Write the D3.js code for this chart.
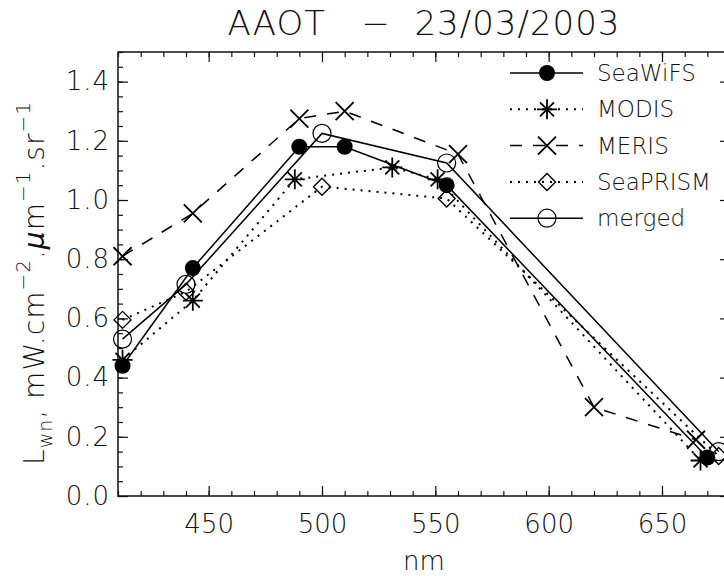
<html lang="en">
<head>
<meta charset="UTF-8">
<title>AAOT - 23/03/2003</title>
<script src="https://d3js.org/d3.v7.min.js"></script>
<style>
    body { margin: 0; background: #fff; }
    text { font-family: "DejaVu Sans", sans-serif; font-weight: 200; fill: #111; white-space: pre; }
</style>
</head>
<body>
<svg width="724" height="576"></svg>
<script>
// data
var titleText = "AAOT   \u2212  23/03/2003";
var seriesNames = ["SeaWiFS", "MODIS", "MERIS", "SeaPRISM", "merged"];

var seawifsNm = [412, 443, 490, 510, 555, 670];
var seawifsLwn = [0.44, 0.77, 1.18, 1.18, 1.05, 0.13];

var modisNm = [412, 443, 488, 531, 551, 667];
var modisLwn = [0.46, 0.66, 1.07, 1.11, 1.07, 0.12];

var merisNm = [412, 443, 490, 510, 560, 620, 665];
var merisLwn = [0.81, 0.955, 1.275, 1.30, 1.155, 0.30, 0.19];

var seaprismNm = [412, 440, 500, 555, 675];
var seaprismLwn = [0.595, 0.69, 1.045, 1.005, 0.135];

var mergedNm = [412, 440, 500, 555, 675];
var mergedLwn = [0.53, 0.715, 1.225, 1.125, 0.15];

var xMajor = [450, 500, 550, 600, 650];
var yMajor = [0.0, 0.2, 0.4, 0.6, 0.8, 1.0, 1.2, 1.4];

var svg = d3.select("svg");
var pLeft = 118, pRight = 730, pTop = 52, pBottom = 496;

var x = d3.scaleLinear().domain([410, 680]).range([pLeft, pRight]);
var y = d3.scaleLinear().domain([0, 1.5]).range([pBottom, pTop]);

var styles = {
    SeaWiFS: {dash: null, sym: "filled"},
    MODIS: {dash: "2,6", sym: "asterisk"},
    MERIS: {dash: "12,11", sym: "cross"},
    SeaPRISM: {dash: "2,6", sym: "diamond"},
    merged: {dash: null, sym: "open"}
};
var series = [
    {name: seriesNames[0], nm: seawifsNm, v: seawifsLwn},
    {name: seriesNames[1], nm: modisNm, v: modisLwn},
    {name: seriesNames[2], nm: merisNm, v: merisLwn},
    {name: seriesNames[3], nm: seaprismNm, v: seaprismLwn},
    {name: seriesNames[4], nm: mergedNm, v: mergedLwn}
];

// axes (IDL style, ticks inward on all four sides)
var xMinor = d3.range(410, 681, 10);
var yMinor = d3.range(0, 1.5001, 0.05);

function styleAxis(g) {
    g.selectAll("path.domain").remove();
    g.selectAll("line").attr("stroke", "#111").attr("stroke-width", 1.2);
}

svg.append("g").attr("transform", "translate(0," + pBottom + ")")
    .call(d3.axisBottom(x).tickValues(xMinor).tickSize(-5).tickFormat(""))
    .call(styleAxis);
svg.append("g").attr("transform", "translate(0," + pBottom + ")")
    .call(d3.axisBottom(x).tickValues(xMajor).tickSize(-10).tickPadding(19).tickFormat(d3.format("d")))
    .call(styleAxis)
    .selectAll("text").attr("font-size", 26).attr("dy", "0.71em");

svg.append("g").attr("transform", "translate(0," + pTop + ")")
    .call(d3.axisTop(x).tickValues(xMinor).tickSize(-5).tickFormat(""))
    .call(styleAxis);
svg.append("g").attr("transform", "translate(0," + pTop + ")")
    .call(d3.axisTop(x).tickValues(xMajor).tickSize(-10).tickFormat(""))
    .call(styleAxis);

svg.append("g").attr("transform", "translate(" + pLeft + ",0)")
    .call(d3.axisLeft(y).tickValues(yMinor).tickSize(-5).tickFormat(""))
    .call(styleAxis);
svg.append("g").attr("transform", "translate(" + pLeft + ",0)")
    .call(d3.axisLeft(y).tickValues(yMajor).tickSize(-10).tickPadding(8).tickFormat(d3.format(".1f")))
    .call(styleAxis)
    .selectAll("text").attr("font-size", 26).attr("letter-spacing", 1);

svg.append("g").attr("transform", "translate(" + pRight + ",0)")
    .call(d3.axisRight(y).tickValues(yMinor).tickSize(-5).tickFormat(""))
    .call(styleAxis);
svg.append("g").attr("transform", "translate(" + pRight + ",0)")
    .call(d3.axisRight(y).tickValues(yMajor).tickSize(-10).tickFormat(""))
    .call(styleAxis);

svg.append("rect")
    .attr("x", pLeft).attr("y", pTop)
    .attr("width", pRight - pLeft).attr("height", pBottom - pTop)
    .attr("fill", "none").attr("stroke", "#111").attr("stroke-width", 1.5);

// title and axis labels
svg.append("text").attr("x", (pLeft + pRight) / 2).attr("y", 35)
    .attr("text-anchor", "middle").attr("font-size", 34).attr("letter-spacing", 1).text(titleText);

svg.append("text").attr("x", (pLeft + pRight) / 2).attr("y", 570)
    .attr("text-anchor", "middle").attr("font-size", 26).text("nm");

var yl = svg.append("text")
    .attr("transform", "translate(44," + ((pTop + pBottom) / 2 + 9) + ") rotate(-90)")
    .attr("text-anchor", "middle").attr("font-size", 28).attr("letter-spacing", 1);
yl.append("tspan").text("L");
yl.append("tspan").attr("font-size", 19).attr("dy", 8).text("wn");
yl.append("tspan").attr("dy", -8).text(", mW.cm");
yl.append("tspan").attr("font-size", 20).attr("dy", -14).text("\u22122");
yl.append("tspan").attr("dy", 14).text(".");
yl.append("tspan").attr("font-style", "italic").text("\u03bc");
yl.append("tspan").text("m");
yl.append("tspan").attr("font-size", 20).attr("dy", -14).text("\u22121");
yl.append("tspan").attr("dy", 14).text(".sr");
yl.append("tspan").attr("font-size", 20).attr("dy", -14).text("\u22121");

// symbols
function drawSymbol(g, kind, cx, cy) {
    var s = g.append("g").attr("transform", "translate(" + cx + "," + cy + ")");
    if (kind === "filled") {
        s.append("circle").attr("r", 8).attr("fill", "#000");
    } else if (kind === "open") {
        s.append("circle").attr("r", 9).attr("fill", "none").attr("stroke", "#000").attr("stroke-width", 1.2);
    } else if (kind === "diamond") {
        s.append("path").attr("d", "M0,-8.5L8.5,0L0,8.5L-8.5,0Z").attr("fill", "none").attr("stroke", "#000").attr("stroke-width", 1.4);
    } else if (kind === "cross") {
        s.append("path").attr("d", "M-9,-9L9,9M-9,9L9,-9").attr("stroke", "#000").attr("stroke-width", 1.8);
    } else if (kind === "asterisk") {
        s.append("path").attr("d", "M0,-10L0,10M-10,0L10,0M-7,-7L7,7M-7,7L7,-7").attr("stroke", "#000").attr("stroke-width", 1.8);
    }
}

var line = d3.line().x(function (d) { return x(d[0]); }).y(function (d) { return y(d[1]); });

series.forEach(function (s) {
    var st = styles[s.name];
    var pts = s.nm.map(function (n, i) { return [n, s.v[i]]; });
    svg.append("path").datum(pts)
        .attr("d", line)
        .attr("fill", "none").attr("stroke", "#000")
        .attr("stroke-width", st.dash === "2,6" ? 2 : 1.5)
        .attr("stroke-dasharray", st.dash);
    var g = svg.append("g");
    pts.forEach(function (p) { drawSymbol(g, st.sym, x(p[0]), y(p[1])); });
});

// legend
var legend = svg.append("g");
series.forEach(function (s, i) {
    var st = styles[s.name];
    var ly = 73 + i * 36.3;
    legend.append("line").attr("x1", 510).attr("x2", 583).attr("y1", ly).attr("y2", ly)
        .attr("stroke", "#000").attr("stroke-width", st.dash === "2,6" ? 2 : 1.5)
        .attr("stroke-dasharray", st.dash);
    drawSymbol(legend, st.sym, 547, ly);
    legend.append("text").attr("x", 597).attr("y", ly).attr("dy", "0.35em")
        .attr("font-size", 23).text(s.name);
});
</script>
</body>
</html>
